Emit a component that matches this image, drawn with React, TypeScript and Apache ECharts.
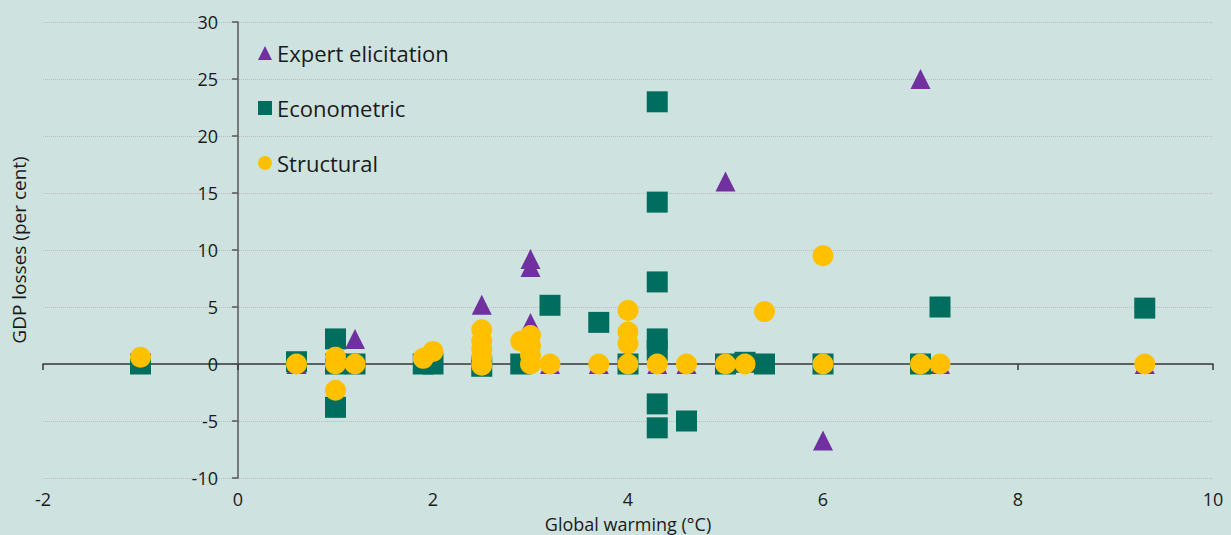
import React, { useEffect, useRef } from "react";
import * as echarts from "echarts";

// [global warming °C, GDP loss %]
const expertPoints: [number, number][] = [
  [0.6, 0], [1.2, 2.2], [2.5, 5.2], [3.0, 9.2], [3.0, 8.5], [3.0, 3.6],
  [3.2, 0], [3.7, 0], [4.3, 0], [4.6, 0], [5.0, 16], [6.0, -6.7],
  [7.0, 25], [7.2, 0], [9.3, 0],
];

const econometricPoints: [number, number][] = [
  [-1.0, 0], [0.6, 0.2], [1.0, 2.2], [1.0, 0], [1.0, -3.8], [1.2, 0],
  [1.9, 0], [2.0, 0], [2.5, -0.2], [2.9, 0], [3.2, 5.15], [3.7, 3.65],
  [4.0, 0], [4.3, 23], [4.3, 14.2], [4.3, 7.2], [4.3, 2.2], [4.3, 1.2],
  [4.3, -3.5], [4.3, -5.6], [4.6, -5.0], [5.0, 0], [5.2, 0.15], [5.4, 0],
  [6.0, 0], [7.0, 0], [7.2, 5.0], [9.3, 4.9],
];

const structuralPoints: [number, number][] = [
  [-1.0, 0.6], [0.6, 0], [1.0, 0.6], [1.0, 0], [1.0, -2.3], [1.2, 0],
  [1.9, 0.5], [2.0, 1.1], [2.5, 3.0], [2.5, 2.0], [2.5, 1.3], [2.5, 0.6],
  [2.5, -0.1], [2.9, 2.0], [3.0, 2.5], [3.0, 1.6], [3.0, 0.8], [3.0, 0],
  [3.2, 0], [3.7, 0], [4.0, 4.7], [4.0, 2.8], [4.0, 1.8], [4.0, 0],
  [4.3, 0], [4.6, 0], [5.0, 0], [5.2, 0], [5.4, 4.6], [6.0, 9.5],
  [6.0, 0], [7.0, 0], [7.2, 0], [9.3, 0],
];

const seriesNames = ["Expert elicitation", "Econometric", "Structural"];

const xMin = -2;
const xMax = 10;
const xStep = 2;
const yMin = -10;
const yMax = 30;
const yStep = 5;

const FONT = "'Open Sans', 'Noto Sans', sans-serif";
const TEXT = "#1a1a1a";

const GRID_LEFT = 43;
const GRID_RIGHT = 18;
const CHART_W = 1231;

export default function App() {
  const ref = useRef<HTMLDivElement>(null);

  useEffect(() => {
    if (!ref.current) return;
    const chart = echarts.init(ref.current, undefined, { renderer: "svg" });
    // y axis sits at x = 0 of the value axis
    const plotW = CHART_W - GRID_LEFT - GRID_RIGHT;
    const yAxisOffset = -((0 - xMin) / (xMax - xMin)) * plotW;
    chart.setOption({
      animation: false,
      backgroundColor: "#cee3df",
      textStyle: { fontFamily: FONT },
      grid: { left: GRID_LEFT, right: GRID_RIGHT, top: 22, bottom: 57, containLabel: false, outerBoundsMode: "none" },
      legend: {
        orient: "vertical",
        left: 253,
        top: 37,
        itemGap: 33,
        itemWidth: 14,
        itemHeight: 14,
        textStyle: { fontSize: 22, color: TEXT, fontFamily: FONT, lineHeight: 22 },
        data: seriesNames,
      },
      xAxis: [
        {
          type: "value",
          min: xMin,
          max: xMax,
          interval: xStep,
          position: "bottom",
          axisLine: { show: false, onZero: false },
          axisTick: { show: false },
          splitLine: { show: false },
          axisLabel: { fontSize: 18, lineHeight: 18, color: TEXT, margin: 12, fontFamily: FONT },
          name: "Global warming (°C)",
          nameLocation: "middle",
          nameGap: 37,
          nameMoveOverlap: false,
          nameTextStyle: { fontSize: 18, color: TEXT, fontFamily: FONT, lineHeight: 18 },
        },
        {
          type: "value",
          min: xMin,
          max: xMax,
          interval: xStep,
          position: "bottom",
          axisLine: { show: true, onZero: true, lineStyle: { color: "#3a3a3a", width: 1.5 } },
          axisTick: { show: true, length: 6, lineStyle: { color: "#3a3a3a", width: 1.5 } },
          axisLabel: { show: false },
          splitLine: { show: false },
        },
      ],
      yAxis: {
        type: "value",
        min: yMin,
        max: yMax,
        interval: yStep,
        position: "left",
        offset: yAxisOffset,
        axisLine: { show: true, onZero: false, lineStyle: { color: "#595959", width: 1.5 } },
        axisTick: { show: true, length: 6, lineStyle: { color: "#595959", width: 1.5 } },
        axisLabel: { fontSize: 18, color: TEXT, margin: 20, fontFamily: FONT },
        splitLine: { show: true, lineStyle: { color: "#bdbdbd", type: "dotted", width: 1 } },
        name: "GDP losses (per cent)",
        nameLocation: "middle",
        nameGap: 210,
        nameRotate: 90,
        nameMoveOverlap: false,
        nameTextStyle: { fontSize: 19, color: TEXT, fontFamily: FONT },
      },
      series: [
        {
          name: seriesNames[0],
          type: "scatter",
          xAxisIndex: 0,
          symbol: "triangle",
          symbolSize: [20, 20],
          itemStyle: { color: "#7030a0", opacity: 1 },
          data: expertPoints,
          z: 2,
        },
        {
          name: seriesNames[1],
          type: "scatter",
          xAxisIndex: 0,
          symbol: "rect",
          symbolSize: 21,
          itemStyle: { color: "#006e5f", opacity: 1 },
          data: econometricPoints,
          z: 3,
        },
        {
          name: seriesNames[2],
          type: "scatter",
          xAxisIndex: 0,
          symbol: "circle",
          symbolSize: 21,
          itemStyle: { color: "#ffc000", opacity: 1 },
          data: structuralPoints,
          z: 4,
        },
      ],
    });
    return () => chart.dispose();
  }, []);

  return (
    <div
      ref={ref}
      style={{ position: "fixed", left: 0, top: 0, width: CHART_W, height: 535 }}
    />
  );
}
